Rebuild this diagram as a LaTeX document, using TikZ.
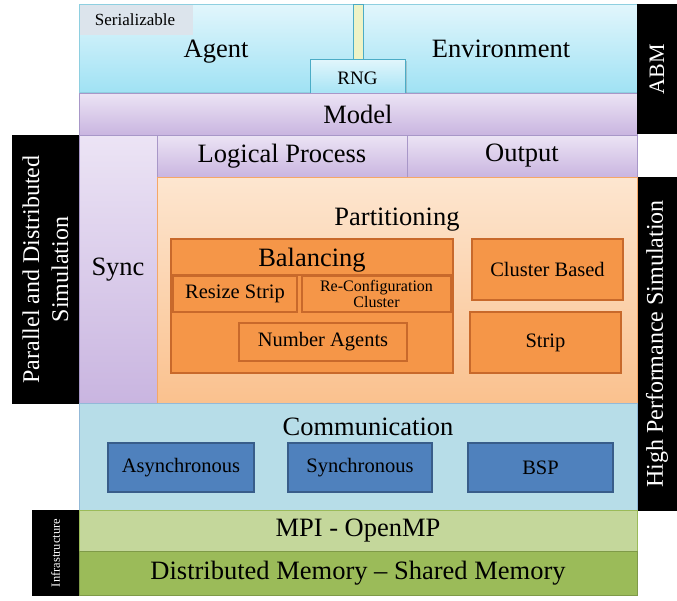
\documentclass[tikz,border=0pt]{standalone}
\usepackage{fontspec}
\setmainfont{Liberation Serif}
\usetikzlibrary{shadows}
\definecolor{cyanT}{HTML}{E2F6FC}
\definecolor{cyanB}{HTML}{A0E2F4}
\definecolor{cyanD}{HTML}{8ECFE0}
\definecolor{serial}{HTML}{DCE4EC}
\definecolor{stripe}{HTML}{EEF3C6}
\definecolor{teal}{HTML}{4BACC6}
\definecolor{lavT}{HTML}{ECE4F5}
\definecolor{lavB}{HTML}{C9B5E0}
\definecolor{lavD}{HTML}{A897C8}
\definecolor{peachT}{HTML}{FDE6D0}
\definecolor{peachB}{HTML}{FAC18E}
\definecolor{peachD}{HTML}{F5A767}
\definecolor{orangeF}{HTML}{F59648}
\definecolor{orangeD}{HTML}{C8692B}
\definecolor{commF}{HTML}{B7DDE8}
\definecolor{commD}{HTML}{93B9D8}
\definecolor{blueF}{HTML}{4F81BD}
\definecolor{blueD}{HTML}{385D8A}
\definecolor{greenL}{HTML}{C4D79B}
\definecolor{greenD}{HTML}{9BBB59}
\definecolor{greenB}{HTML}{7F9A48}
\begin{document}
\begin{tikzpicture}[x=1pt,y=-1pt,
  rect/.style={inner sep=0pt, outer sep=0pt, anchor=north west},
  blk/.style={rect, fill=black},
  big/.style={font=\fontsize{26.5}{28}\selectfont, text=black},
  mid/.style={font=\fontsize{20.5}{22}\selectfont, text=black},
  vlab/.style={font=\fontsize{24}{29}\selectfont, text=white, rotate=90, align=center},
  obox/.style={rect, fill=orangeF, draw=orangeD, line width=1.3pt},
  bbox/.style={rect, fill=blueF, draw=blueD, line width=1.3pt}
]
\useasboundingbox (0,0) rectangle (677,600);
\fill[white] (0,0) rectangle (677,600);

% ABM layer
\node[rect, top color=cyanT, bottom color=cyanB, draw=cyanD, line width=0.6pt, minimum width=558pt, minimum height=88pt] (top) at (79,4) {};
\node[rect, fill=serial, minimum width=113pt, minimum height=30pt] (ser) at (79.5,4.5) {};
\node[font=\fontsize{17}{18}\selectfont] (sertxt) at (135,19.5) {Serializable};
\node[rect, fill=stripe, draw=teal, line width=0.5pt, minimum width=10pt, minimum height=56pt] (stripe) at (353,4) {};
\node[big, anchor=base] (agent) at (216,57) {Agent};
\node[big, anchor=base] (env) at (501,57) {Environment};
\node[rect, top color=cyanT, bottom color=cyanB, draw=teal, line width=1pt, minimum width=95pt, minimum height=38pt, drop shadow={opacity=0.35, shadow xshift=1.5pt, shadow yshift=-1.5pt}] (rng) at (310,59) {};
\node[font=\fontsize{19}{20}\selectfont] at (rng.center) {RNG};
\node[rect, top color=lavT, bottom color=lavB, draw=lavD, line width=0.6pt, minimum width=558pt, minimum height=42pt] (model) at (79,93) {};
\node[big] at (model.center) {Model};
\node[blk, minimum width=40pt, minimum height=130pt] (abm) at (637,4) {};
\node[vlab, font=\fontsize{22}{24}\selectfont] at (abm.center) {ABM};

% PDS layer
\node[blk, minimum width=67pt, minimum height=269pt] (pds) at (12,135) {};
\node[vlab] at (pds.center) {Parallel and Distributed\\Simulation};
\node[rect, top color=lavT, bottom color=lavB, draw=lavD, line width=0.6pt, minimum width=78pt, minimum height=269pt] (sync) at (79,135) {};
\node[big] at (sync.center) {Sync};
\node[rect, top color=lavT, bottom color=lavB, draw=lavD, line width=0.6pt, minimum width=250pt, minimum height=42pt] (lp) at (157,135) {};
\node[big] at (lp.center) {Logical Process};
\node[rect, top color=lavT, bottom color=lavB, draw=lavD, line width=0.6pt, minimum width=230pt, minimum height=42pt] (out) at (407,135) {};
\node[big] at (out.center) {Output};

% HPS
\node[blk, minimum width=40pt, minimum height=334pt] (hps) at (637,177) {};
\node[vlab] at (hps.center) {High Performance Simulation};

% Partitioning
\node[rect, top color=peachT, bottom color=peachB, draw=peachD, line width=0.8pt, minimum width=480pt, minimum height=226pt] (part) at (157,177) {};
\node[big] (parttxt) at (397,220) {Partitioning};
\node[obox, minimum width=282pt, minimum height=134pt] (bal) at (171,239) {};
\coordinate (balL) at (171,275);
\coordinate (balR) at (453,275);
\draw[orangeD, line width=1.3pt] (balL) -- (balR);
\node[big] at (312,260) {Balancing};
\node[obox, minimum width=124pt, minimum height=36pt] (resize) at (173,276) {};
\node[mid] at (resize.center) {Resize Strip};
\node[obox, minimum width=149pt, minimum height=36pt] (recfg) at (302,276) {};
\node[font=\fontsize{16}{16}\selectfont, align=center] at (recfg.center) {Re-Configuration\\Cluster};
\node[obox, minimum width=168pt, minimum height=38pt] (numag) at (239,323) {};
\node[mid] at (numag.center) {Number Agents};
\node[obox, minimum width=151pt, minimum height=61pt] (clus) at (472,239) {};
\node[mid] at (clus.center) {Cluster Based};
\node[obox, minimum width=151pt, minimum height=61pt] (strip) at (470,312) {};
\node[mid] at (strip.center) {Strip};

% Communication
\node[rect, fill=commF, draw=commD, line width=0.8pt, minimum width=558pt, minimum height=107pt] (comm) at (79,403) {};
\node[big] at (368,427) {Communication};
\node[bbox, minimum width=146pt, minimum height=49pt] (async) at (108,443) {};
\node[mid] at (async.center) {Asynchronous};
\node[bbox, minimum width=144pt, minimum height=49pt] (syn) at (288,443) {};
\node[mid] at (syn.center) {Synchronous};
\node[bbox, minimum width=145pt, minimum height=49pt] (bsp) at (468,443) {};
\node[mid] at (bsp.center) {BSP};

% Infrastructure
\node[blk, minimum width=47pt, minimum height=86pt] (infra) at (32,510) {};
\node[vlab, font=\fontsize{12.5}{13}\selectfont] at (infra.center) {Infrastructure};
\node[rect, fill=greenL, draw=greenD, line width=0.8pt, minimum width=558pt, minimum height=41pt] (mpi) at (79,510) {};
\node[big] at (mpi.center) {MPI - OpenMP};
\node[rect, fill=greenD, draw=greenB, line width=1pt, minimum width=558pt, minimum height=44pt] (mem) at (79,551) {};
\node[big] at (mem.center) {Distributed Memory – Shared Memory};
\end{tikzpicture}
\end{document}
